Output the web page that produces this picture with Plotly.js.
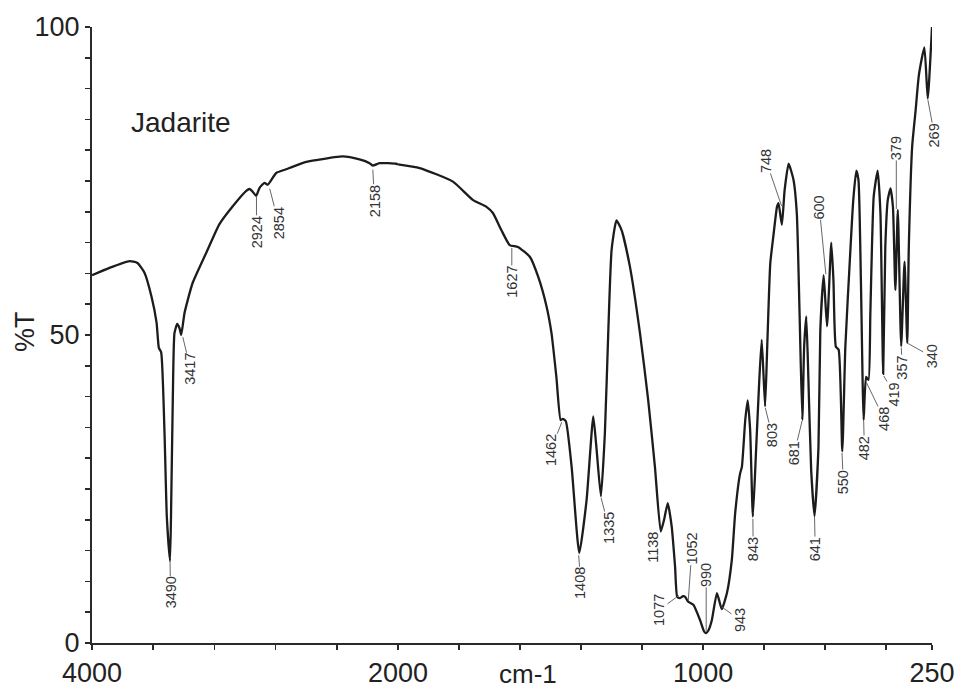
<!DOCTYPE html>
<html><head><meta charset="utf-8">
<script src="https://cdn.plot.ly/plotly-3.0.1.min.js"></script>
<style>html,body{margin:0;padding:0;background:#fff}</style>
</head><body><div id="chart" style="width:966px;height:689px"></div>
<script>
// IR spectrum of Jadarite: wavenumber (cm-1) and transmittance (%T)
const wavenumbers = [4000,3886,3755,3703,3657,3611,3578,3563,3548,3526,3511,3490,3482,3472,3461,3443,3428,3417,3395,3343,3254,3167,3080,2992,2970,2951,2927,2905,2873,2851,2796,2731,2690,2600,2535,2361,2252,2186,2165,2121,2012,2000,
1929,1820,1754,1710,1689,1661,1634,1607,1568,1541,1513,1497,1481,1467,1460,1450,1431,1406,1382,1360,1349,1335,1322,1311,1300,1284,1267,1240,1207,1180,1158,1139,1128,1116,1103,1092,1085,1076,1066,1059,1049,1032,1010,997,990,982,972,955,948,939,922,906,895,879,873,862,854,846,837,826,816,808,797,790,780,770,758,753,742,733,720,704,693,684,675,669,662,655,646,635,622,616,605,594,580,573,565,556,544,534,518,508,498,491,483,474,466,458,452,441,428,419,410,403,395,386,378,370,362,351,340,331,326,315,304,293,275,264,250];
const transmittance = [59.7,60.9,62.0,61.7,60.1,56.2,52.0,47.9,47.2,34.1,20.5,13.3,23.2,39.4,50.3,51.8,51.1,50.0,53.6,58.4,63.3,68.0,70.9,73.4,73.7,73.3,72.6,73.9,74.7,74.4,76.3,76.9,77.3,78.1,78.4,79.0,78.5,77.9,77.5,77.9,77.8,77.7,
77.1,74.9,71.9,70.8,69.8,67.0,64.6,64.3,62.7,59.5,54.6,50.3,43.2,36.2,36.4,36.0,28.6,14.6,23.2,36.8,31.3,23.8,34.1,50.3,63.8,68.6,67.0,61.1,50.3,39.4,28.6,18.1,20.0,22.7,18.9,12.4,7.5,7.3,7.6,7.5,6.7,6.2,3.7,1.9,1.6,2.1,3.6,8.1,7.0,5.5,8.1,13.5,21.1,27.5,28.6,36.2,39.4,34.6,20.5,31.9,42.7,49.2,38.4,48.1,61.6,66.0,70.8,71.4,67.9,73.5,77.8,75.2,69.7,53.5,36.2,48.1,53.0,42.7,28.1,20.6,31.9,50.8,59.7,51.4,65.0,58.9,48.1,47.6,31.1,48.1,63.3,71.9,76.7,75.2,58.9,36.2,43.2,42.7,53.6,72.5,76.7,69.8,43.7,64.3,71.9,73.8,70.8,57.3,70.3,48.2,61.9,48.7,64.3,80.6,86.3,92.2,96.7,88.4,100];

// Peak labels: text, leader-line tip (wavenumber, %T), text offset in px
const peakText = ['3490','3417','2924','2854','2158','1627','1462','1408','1335','1052','1077','990','943','843','803','748','681','641','600','550','482','468','419','357','340','379','269'];
const tipWn    = [3490,3408,2925,2840,2165,1627,1462,1408,1335,1049,1077,990,943,837,797,742,675,635,597.5,545,474,466,410,351,331,367,264];
const tipT     = [13.5,49.8,72.6,73.9,77.0,64.3,36.0,14.4,23.7,6.7,7.8,1.8,6.0,20.3,38.3,70.8,36.2,20.6,59.7,31.0,36.2,42.4,43.5,48.1,48.7,70.3,88.3];
const offX     = [0.5,8,0,9,1.7,0,-11.4,2,8,3.7,-20.6,0,19.5,0.3,7,-15.7,-8,0.7,-6.7,1.3,0.7,18,11.3,1.3,24.3,0,6.7];
const offY     = [33,33,36,35,32,35,29,29,31,-53,15,-57,14,31,28,-46,33,33,-68,30,28,37,19,20.5,13.7,-62,36];

const yTickVals = [0,5,10,15,20,25,30,35,40,45,50,55,60,65,70,75,80,85,90,95,100];
const yTickText = yTickVals.map(v => (v % 50 === 0 ? String(v) : ''));
const x1TickVals = [4000,3600,3200,2800,2400,2000];
const x1TickText = ['4000','','','','','2000'];
const x2TickVals = [1800,1600,1400,1200,1000,800,600,400,250];
const x2TickText = ['','','','','1000','','','','250'];

const FONT = 'Arial, "Liberation Sans", sans-serif';
const hiX=[],hiY=[],loX=[],loY=[];
wavenumbers.forEach((w,i)=>{ if(w>=2000){hiX.push(w);hiY.push(transmittance[i]);} if(w<=2000){loX.push(w);loY.push(transmittance[i]);} });

const lineStyle = {color:'#1c1c1c', width:2.3, shape:'spline', smoothing:0.5};
const traces = [
  {x:hiX, y:hiY, xaxis:'x', yaxis:'y', mode:'lines', line:lineStyle, hoverinfo:'skip'},
  {x:loX, y:loY, xaxis:'x2', yaxis:'y', mode:'lines', line:lineStyle, hoverinfo:'skip'}
];

const annotations = peakText.map((t,i)=>({
  text:t, textangle:-90, x:tipWn[i], y:tipT[i], xref: tipWn[i]>=2000?'x':'x2', yref:'y',
  showarrow:true, arrowhead:0, arrowwidth:0.9, arrowcolor:'#555', ax:offX[i], ay:offY[i], standoff:1,
  font:{family:FONT, size:14.5, color:'#333'}, borderpad:0
}));
annotations.push({text:'1138', textangle:-90, x:1164.5, y:15.6, xref:'x2', yref:'y', showarrow:false,
  font:{family:FONT, size:14.5, color:'#333'}, borderpad:0});
annotations.push({text:'Jadarite', x:0.106, y:0.845, xref:'paper', yref:'paper', showarrow:false,
  xanchor:'center', yanchor:'middle', font:{family:FONT, size:28, color:'#222'}});
annotations.push({text:'%T', textangle:-90, x:-0.0798, y:0.5065, xref:'paper', yref:'paper', showarrow:false,
  xanchor:'center', yanchor:'middle', font:{family:FONT, size:27, color:'#222'}});
annotations.push({text:'cm-1', x:0.519, y:-0.050, xref:'paper', yref:'paper', showarrow:false, borderpad:0,
  xanchor:'center', yanchor:'middle', font:{family:FONT, size:26, color:'#222'}});

const axCommon = {showline:true, linewidth:2, linecolor:'#2a2a2a', ticks:'outside', ticklen:5, tickwidth:1.5,
  tickcolor:'#2a2a2a', showgrid:false, zeroline:false, tickmode:'array', tickfont:{family:FONT, size:27, color:'#222'}, fixedrange:true};
const D = 306/840;
const layout = {
  width:966, height:689, margin:{l:92, r:34, t:27, b:46}, paper_bgcolor:'#fff', plot_bgcolor:'#fff', showlegend:false,
  xaxis: Object.assign({}, axCommon, {domain:[0,D], range:[4000,2000], tickvals:x1TickVals, ticktext:x1TickText, anchor:'y'}),
  xaxis2: Object.assign({}, axCommon, {domain:[D,1], range:[2000,250], tickvals:x2TickVals, ticktext:x2TickText, anchor:'y'}),
  yaxis: Object.assign({}, axCommon, {range:[0,100], tickvals:yTickVals, ticktext:yTickText}),
  annotations: annotations
};
Plotly.newPlot('chart', traces, layout, {staticPlot:true, displayModeBar:false});
</script></body></html>
